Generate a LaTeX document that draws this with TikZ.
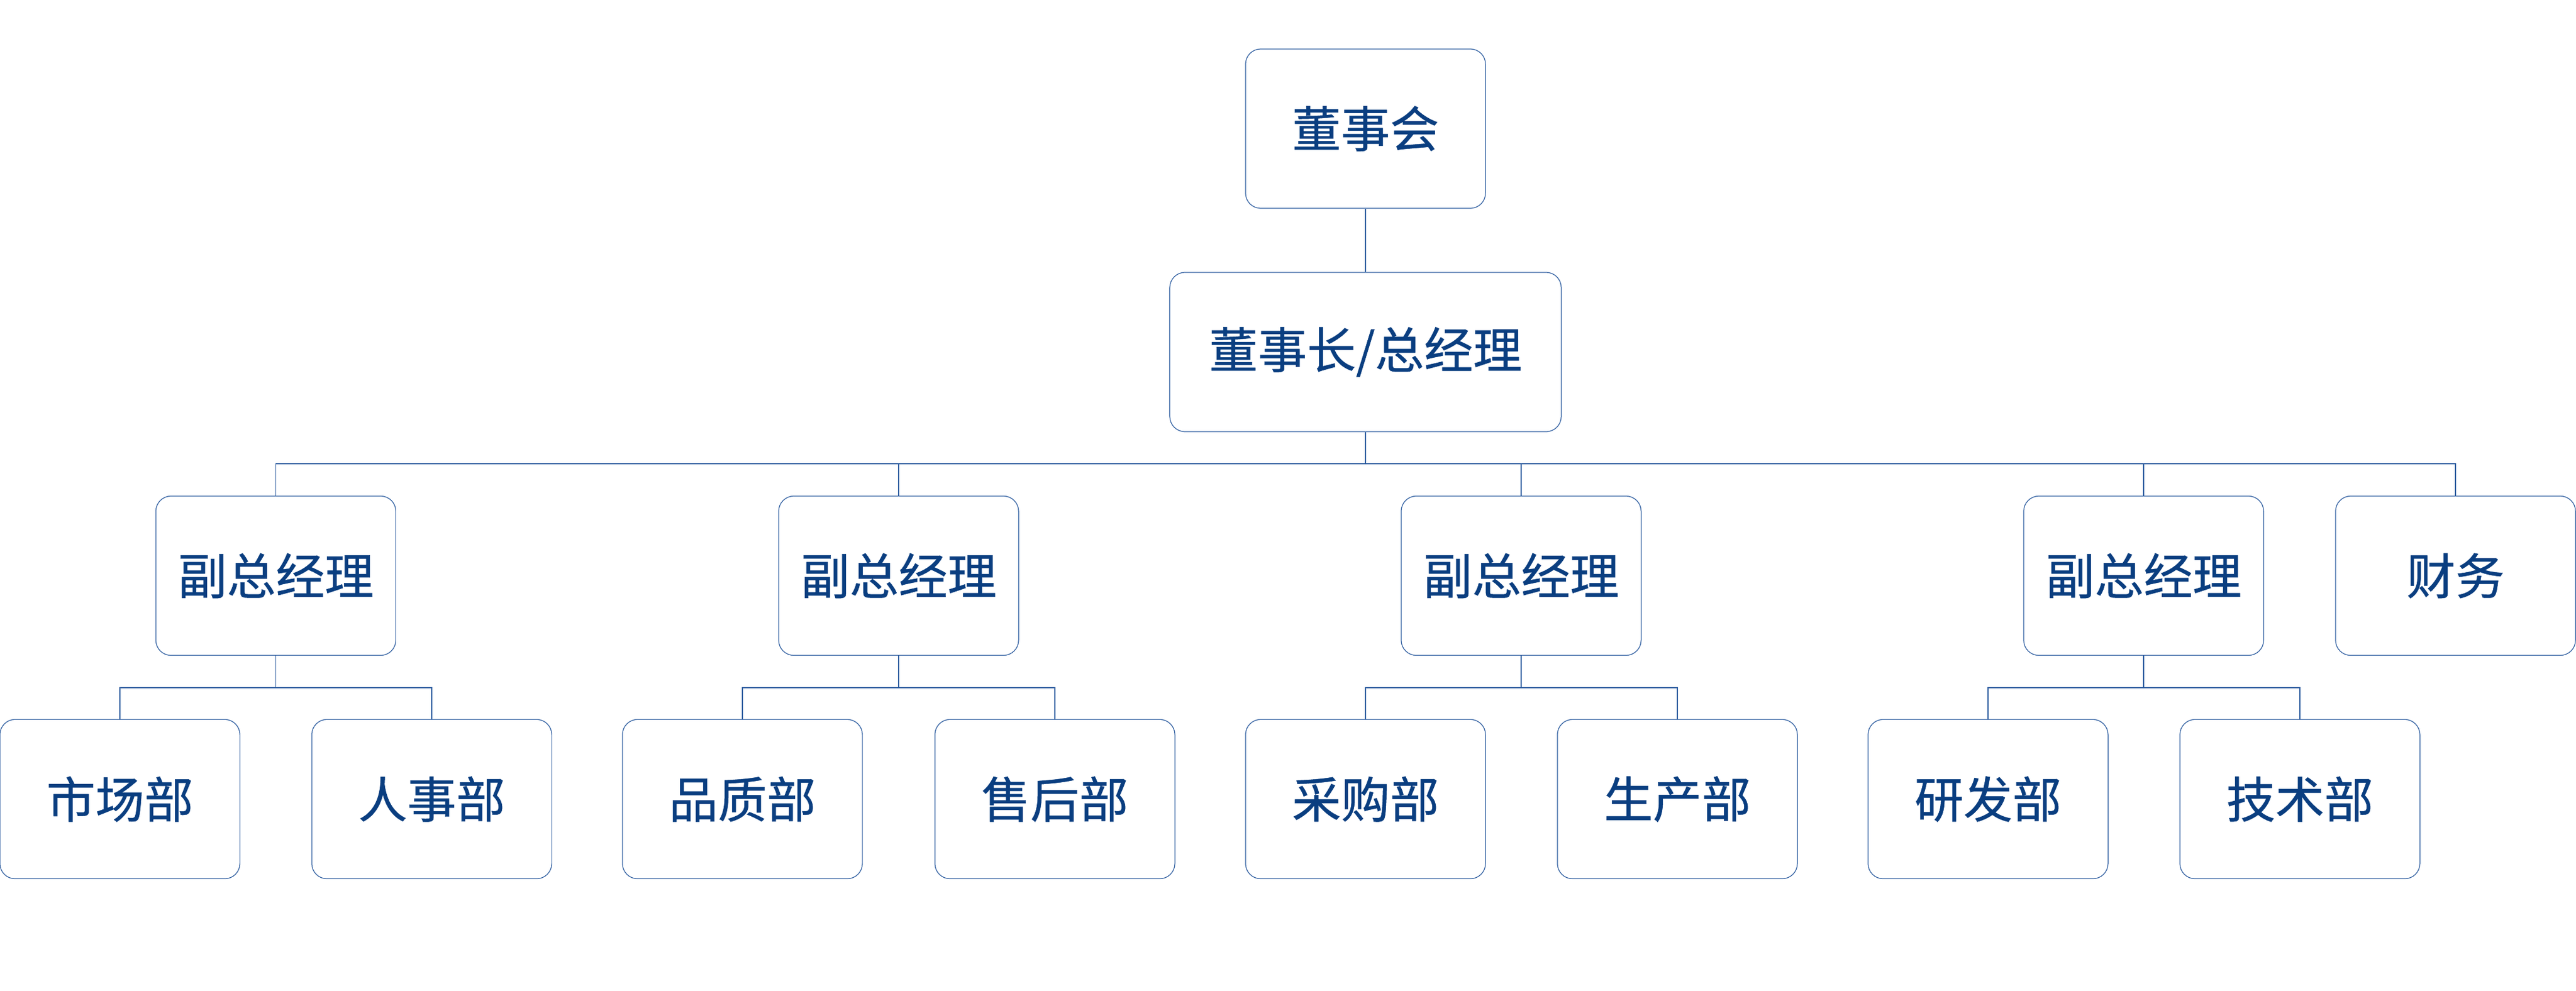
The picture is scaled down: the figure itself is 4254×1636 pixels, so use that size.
\documentclass[tikz,border=0pt]{standalone}
\usepackage{fontspec}
\setmainfont{Noto Sans CJK SC}[FakeBold=0.6]
\definecolor{boxline}{RGB}{47,94,160}
\definecolor{txt}{RGB}{10,62,128}
\begin{document}
\begin{tikzpicture}[x=0.01cm,y=-0.01cm,
  box/.style={draw=boxline,line width=0.35pt,rounded corners=0.25cm,fill=white,
    minimum width=3.96cm,minimum height=2.63cm,inner sep=0pt,
    text=txt,font=\fontsize{23}{27}\selectfont},
  wide/.style={box,minimum width=6.46cm},
  link/.style={draw=boxline,line width=0.35pt}]
\useasboundingbox (0,0) rectangle (4254,1636);
% top levels
\node[box]  (board) at (2255,212.5) {董事会};
\node[wide] (gm)    at (2255,581.5) {董事长/总经理};
% vice presidents
\node[box] (vp1) at (455.5,951) {副总经理};
\node[box] (vp2) at (1484,951) {副总经理};
\node[box] (vp3) at (2512,951) {副总经理};
\node[box] (vp4) at (3540,951) {副总经理};
\node[box] (fin) at (4055,951) {财务};
% departments
\node[box] (d1) at (198,1320) {市场部};
\node[box] (d2) at (713,1320) {人事部};
\node[box] (d3) at (1226,1320) {品质部};
\node[box] (d4) at (1742,1320) {售后部};
\node[box] (d5) at (2255,1320) {采购部};
\node[box] (d6) at (2770,1320) {生产部};
\node[box] (d7) at (3283,1320) {研发部};
\node[box] (d8) at (3798,1320) {技术部};
% bus coordinates
\coordinate (bus) at (0,766);
\coordinate (sub) at (0,1136);
% connectors
\draw[link] (board.south) -- (gm.north);
\foreach \n in {vp1,vp2,vp3,vp4,fin}
  \draw[link] (gm.south) -- (gm.south |- bus) -| (\n.north);
\draw[link] (vp1.south) -- (vp1.south |- sub) -| (d1.north);
\draw[link] (vp1.south |- sub) -| (d2.north);
\draw[link] (vp2.south) -- (vp2.south |- sub) -| (d3.north);
\draw[link] (vp2.south |- sub) -| (d4.north);
\draw[link] (vp3.south) -- (vp3.south |- sub) -| (d5.north);
\draw[link] (vp3.south |- sub) -| (d6.north);
\draw[link] (vp4.south) -- (vp4.south |- sub) -| (d7.north);
\draw[link] (vp4.south |- sub) -| (d8.north);
\end{tikzpicture}
\end{document}
